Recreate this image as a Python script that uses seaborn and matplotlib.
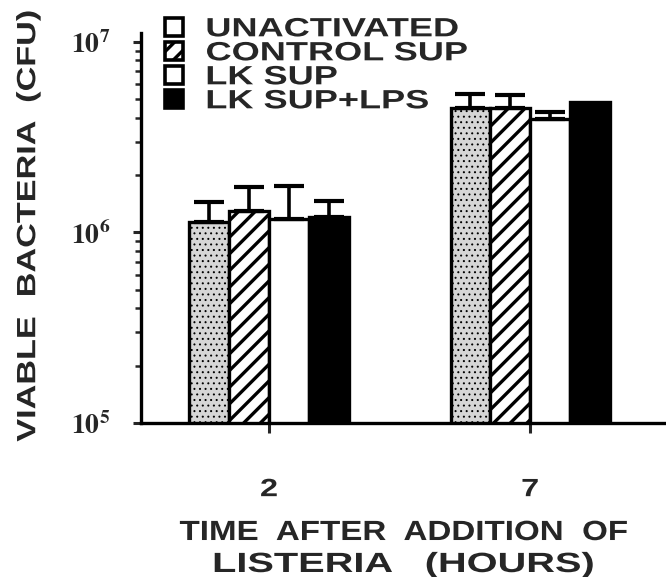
import numpy as np
import pandas as pd
import matplotlib
matplotlib.use("Agg")
import matplotlib.pyplot as plt
import matplotlib.patheffects as pe
from matplotlib.transforms import Affine2D
import seaborn as sns
from matplotlib.patches import Patch
from matplotlib.ticker import LogLocator, FixedLocator, NullFormatter

# ---- data ----
times = ["2", "7"]
treatments = ["UNACTIVATED", "CONTROL SUP", "LK SUP", "LK SUP+LPS"]
unactivated = [1.13e6, 4.5e6]
control_sup = [1.29e6, 4.5e6]
lk_sup = [1.17e6, 3.93e6]
lk_sup_lps = [1.21e6, 4.83e6]
unactivated_err = [0.31e6, 0.8e6]
control_sup_err = [0.44e6, 0.76e6]
lk_sup_err = [0.58e6, 0.34e6]
lk_sup_lps_err = [0.25e6, 0.0]
y_ticks = [1e5, 1e6, 1e7]
y_tick_labels = [r"$\mathbf{10^{5}}$", r"$\mathbf{10^{6}}$", r"$\mathbf{10^{7}}$"]
x_label_1 = "TIME  AFTER  ADDITION  OF"
x_label_2 = "LISTERIA   (HOURS)"
y_label = "VIABLE  BACTERIA  (CFU)"

values = [unactivated, control_sup, lk_sup, lk_sup_lps]
errors = [unactivated_err, control_sup_err, lk_sup_err, lk_sup_lps_err]
df = pd.DataFrame({
    "time": [t for _ in treatments for t in times],
    "treatment": [tr for tr in treatments for _ in times],
    "cfu": [v for vs in values for v in vs],
})


class StretchX(pe.AbstractPathEffect):
    """Widen glyphs along the text direction (the reference uses an extended bold face)."""

    def __init__(self, sx=None, target_px=None, anchor="center"):
        super().__init__()
        self.sx = sx
        self.target_px = target_px
        self.anchor = anchor

    def draw_path(self, renderer, gc, tpath, affine, rgbFace=None):
        try:
            ext = tpath.get_extents()
        except Exception:
            renderer.draw_path(gc, tpath, affine, rgbFace)
            return
        if ext.width <= 0:
            renderer.draw_path(gc, tpath, affine, rgbFace)
            return
        if self.target_px is not None:
            m = affine.get_matrix()
            scale = np.sqrt(abs(m[0, 0] * m[1, 1] - m[0, 1] * m[1, 0]))
            sx = self.target_px / (ext.width * scale)
        else:
            sx = self.sx
        cx = (ext.x0 + ext.x1) / 2 if self.anchor == "center" else ext.x0
        t = Affine2D().translate(-cx, 0).scale(sx, 1).translate(cx, 0)
        renderer.draw_path(gc, tpath, t + affine, rgbFace)


sns.set_style("ticks")
plt.rcParams["font.family"] = ["Liberation Sans", "DejaVu Sans"]
plt.rcParams["font.weight"] = "bold"
plt.rcParams["mathtext.fontset"] = "stix"
plt.rcParams["hatch.linewidth"] = 2.4

fig = plt.figure(figsize=(6.66, 5.77), dpi=100)
ax = fig.add_axes([0.2117, 0.2669, 0.7883, 0.676])

face = {"UNACTIVATED": "#d6d6d6", "CONTROL SUP": "white", "LK SUP": "white", "LK SUP+LPS": "black"}
hatch = {"UNACTIVATED": "...", "CONTROL SUP": "//", "LK SUP": "", "LK SUP+LPS": ""}

sns.barplot(data=df, x="time", y="cfu", hue="treatment", order=times,
            hue_order=treatments, palette=face, errorbar=None, width=0.61,
            gap=0, edgecolor="black", linewidth=2.4, legend=False, ax=ax)

for tr, cont, errs in zip(treatments, ax.containers, errors):
    xs, tops = [], []
    for bar in cont:
        bar.set_hatch(hatch[tr])
        bar.set_edgecolor("black")
        if tr == "UNACTIVATED" and hasattr(bar, "set_hatch_linewidth"):
            bar.set_hatch_linewidth(0.7)
        xs.append(bar.get_x() + bar.get_width() / 2)
        tops.append(bar.get_height())
    xs = np.array(xs)
    tops = np.array(tops)
    errs = np.array(errs)
    mask = errs > 0
    ax.errorbar(xs[mask], tops[mask], yerr=[np.zeros(mask.sum()), errs[mask]],
                fmt="none", ecolor="black", elinewidth=2.6, capsize=11, capthick=3)

ax.set_yscale("log")
ax.set_ylim(1e5, 1.115e7)
ax.set_xlim(-0.49, 1.52)
ax.yaxis.set_major_locator(FixedLocator(y_ticks))
ax.set_yticklabels(y_tick_labels, fontsize=20)
ax.yaxis.set_minor_locator(LogLocator(base=10, subs=np.arange(2, 10)))
ax.yaxis.set_minor_formatter(NullFormatter())
ax.tick_params(axis="y", which="major", length=6, width=2.2, pad=16)
ax.tick_params(axis="y", which="minor", length=4, width=1.8)
ax.tick_params(axis="x", which="major", length=7, width=2.2, pad=32, labelsize=18)
for lab in ax.get_xticklabels():
    lab.set_fontweight("bold")
    lab.set_path_effects([StretchX(sx=1.3)])

sns.despine(ax=ax)
for s in ["left", "bottom"]:
    ax.spines[s].set_linewidth(2.4)
    ax.spines[s].set_color("black")

# x label (two lines, each widened to the reference width)
ax.set_xlabel(x_label_1, fontsize=20, fontweight="bold")
ax.xaxis.label.set_va("baseline")
ax.xaxis.set_label_coords(0.5, -0.300)
ax.xaxis.label.set_path_effects([StretchX(target_px=447)])
ax.text(0.5, -0.382, x_label_2, transform=ax.transAxes, ha="center", va="baseline",
        fontsize=20, fontweight="bold", path_effects=[StretchX(target_px=378)])

ax.set_ylabel(y_label, fontsize=19, fontweight="bold")
ax.yaxis.set_label_coords(-0.192, 0.505)
ax.yaxis.label.set_path_effects([StretchX(target_px=430)])

handles = [Patch(facecolor=("white" if t == "UNACTIVATED" else face[t]), edgecolor="black",
                 hatch=("" if t == "UNACTIVATED" else hatch[t]), linewidth=2.6)
           for t in treatments]
leg = ax.legend(handles, treatments, loc="upper left", bbox_to_anchor=(0.2478, 0.970),
                bbox_transform=fig.transFigure, frameon=False, fontsize=19,
                handlelength=0.68, handleheight=0.68, handletextpad=0.87,
                labelspacing=0.0, borderaxespad=0, borderpad=0)
for t in leg.get_texts():
    t.set_fontweight("bold")
    t.set_path_effects([StretchX(sx=1.37, anchor="left")])

fig.savefig("out.png", dpi=100)
